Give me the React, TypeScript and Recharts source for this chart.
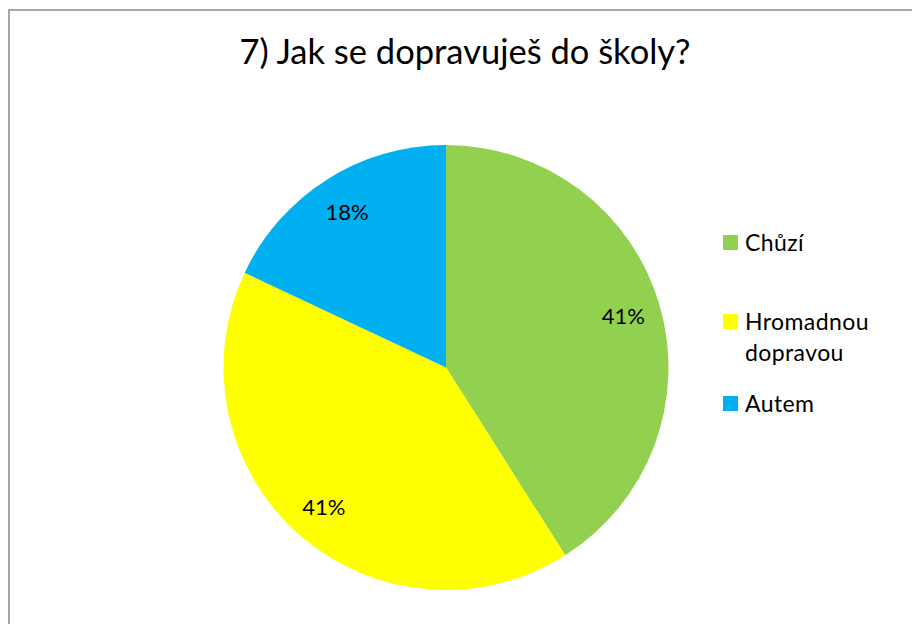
import { Legend, Pie, PieChart, Cell } from "recharts";

const categories = ["Chůzí", "Hromadnou dopravou", "Autem"];
const shares = [41, 41, 18];
const colors = ["#92D050", "#FFFF00", "#00B0F0"];

const pieData = categories.map((name, i) => ({ name, value: shares[i], color: colors[i] }));

const RAD = Math.PI / 180;
const FONT = "Lato, 'Open Sans', sans-serif";

function PercentLabel(props: any) {
  const { cx, cy, midAngle, outerRadius, percent } = props;
  const r = outerRadius * 0.83;
  const x = cx + r * Math.cos(-midAngle * RAD);
  const y = cy + r * Math.sin(-midAngle * RAD);
  return (
    <text x={x} y={y} textAnchor="middle" dominantBaseline="central" fontFamily={FONT} fontSize={22} fill="#000">
      {Math.round(percent * 100)}%
    </text>
  );
}

function LegendBox() {
  const gaps = [48, 20, 0];
  return (
    <div style={{ fontFamily: FONT, fontSize: 23, letterSpacing: 0.4, lineHeight: "31px", color: "#000" }}>
      {pieData.map((d, i) => (
        <div key={d.name} style={{ display: "flex", alignItems: "flex-start", marginBottom: gaps[i] }}>
          <span style={{ width: 15, height: 15, background: d.color, marginTop: 8, marginRight: 7, flexShrink: 0 }} />
          <span style={{ width: 150 }}>{d.name}</span>
        </div>
      ))}
    </div>
  );
}

export default function App() {
  return (
    <div style={{ position: "relative", width: 904, height: 616, overflow: "hidden", background: "#fff" }}>
      <style>{"html,body{overflow:hidden}body{margin-bottom:0;margin-right:0}"}</style>
      <div
        style={{
          position: "absolute",
          left: 0,
          top: 1,
          width: 1200,
          height: 1200,
          border: "2px solid #a6a6a6",
          boxSizing: "border-box"
        }}
      />
      <div
        style={{
          position: "absolute",
          left: 0,
          width: 914,
          top: 22,
          textAlign: "center",
          fontFamily: FONT,
          fontSize: 34.5,
          lineHeight: "42px",
          color: "#000"
        }}
      >
        7) Jak se dopravuješ do školy?
      </div>
      <div style={{ position: "absolute", left: 0, top: 0 }}>
        <PieChart width={904} height={616}>
          <Pie
            data={pieData}
            dataKey="value"
            nameKey="name"
            cx={433}
            cy={354.5}
            outerRadius={222.5}
            startAngle={90}
            endAngle={-270}
            stroke="none"
            labelLine={false}
            label={PercentLabel}
            isAnimationActive={false}
          >
            {pieData.map((d) => (
              <Cell key={d.name} fill={d.color} />
            ))}
          </Pie>
          <Legend
            content={LegendBox}
            wrapperStyle={{ left: 715, top: 219, width: 185, bottom: "auto", right: "auto" }}
          />
        </PieChart>
      </div>
    </div>
  );
}
